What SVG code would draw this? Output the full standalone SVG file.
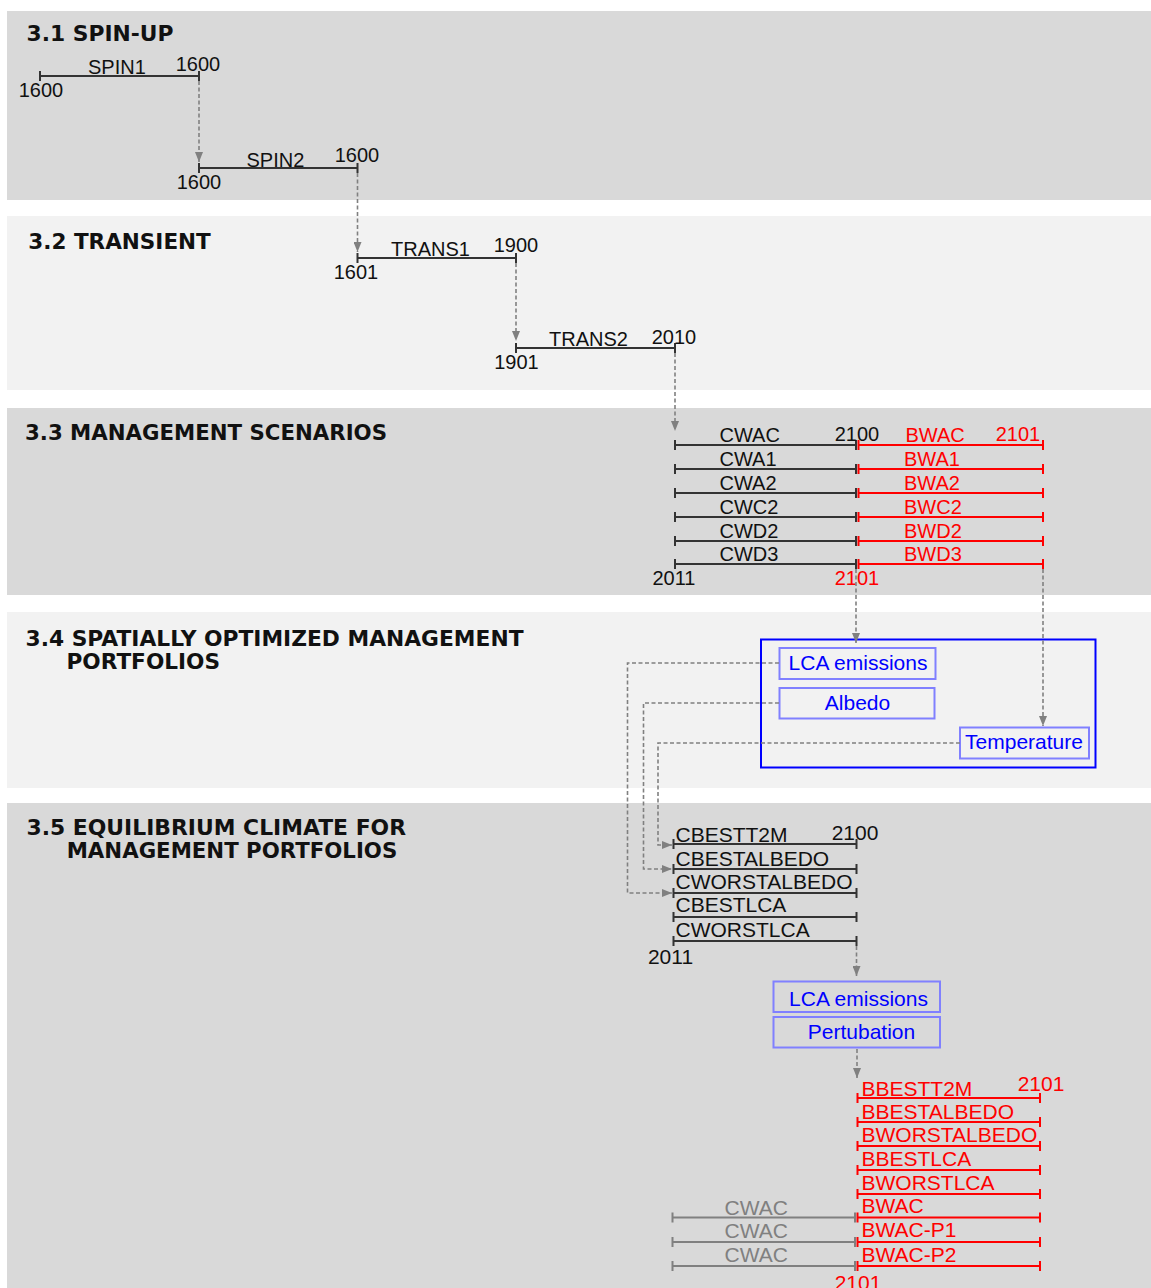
<svg xmlns="http://www.w3.org/2000/svg" width="1151" height="1288" viewBox="0 0 1151 1288">
<style>
.band-d{fill:#d9d9d9}
.band-l{fill:#f2f2f2}
.title{font-family:"DejaVu Sans",Verdana,sans-serif;font-weight:bold;font-size:21px;fill:#111}
.t{font-family:"Liberation Sans",Arial,sans-serif;font-size:20px;fill:#111}
.t21{font-family:"Liberation Sans",Arial,sans-serif;font-size:21px;fill:#111}
.red{fill:#ff0000}
.gray{fill:#808080}
.blue{fill:#0000ff}
.mid{text-anchor:middle}
.bl{fill:none;stroke:#333;stroke-width:2}
.rl{fill:none;stroke:#ff0000;stroke-width:2}
.gl{fill:none;stroke:#808080;stroke-width:2}
.box{fill:none;stroke:#8080ff;stroke-width:2}
.bigbox{fill:none;stroke:#0000ff;stroke-width:2}
.conn{fill:none;stroke:#808080;stroke-width:1.6;stroke-dasharray:4 2.5}
</style>
<defs>
<marker id="arr" markerWidth="10" markerHeight="8" refX="10" refY="4" orient="auto" markerUnits="userSpaceOnUse">
<path d="M0,0 L10,4 L0,8 z" fill="#808080"/>
</marker>
</defs>

<g id="bands">
<rect class="band-d" x="7" y="11" width="1144" height="189"/>
<rect class="band-l" x="7" y="216" width="1144" height="174"/>
<rect class="band-d" x="7" y="408" width="1144" height="187"/>
<rect class="band-l" x="7" y="612" width="1144" height="176"/>
<rect class="band-d" x="7" y="803" width="1144" height="485"/>
<text class="title" x="26.5" y="41" textLength="147" lengthAdjust="spacingAndGlyphs">3.1 SPIN-UP</text>
<text class="title" x="28.3" y="248.5" textLength="182.5" lengthAdjust="spacingAndGlyphs">3.2 TRANSIENT</text>
<text class="title" x="25" y="440" textLength="362" lengthAdjust="spacingAndGlyphs">3.3 MANAGEMENT SCENARIOS</text>
<text class="title" x="25.5" y="646" textLength="498" lengthAdjust="spacingAndGlyphs">3.4 SPATIALLY OPTIMIZED MANAGEMENT</text>
<text class="title" x="66.5" y="668.5" textLength="153.5" lengthAdjust="spacingAndGlyphs">PORTFOLIOS</text>
<text class="title" x="26.5" y="835" textLength="379.5" lengthAdjust="spacingAndGlyphs">3.5 EQUILIBRIUM CLIMATE FOR</text>
<text class="title" x="66.7" y="858" textLength="330.6" lengthAdjust="spacingAndGlyphs">MANAGEMENT PORTFOLIOS</text>
</g>

<g id="spin1">
<path class="bl" d="M40,71 V81 M40,76 H199 M199,71 V81"/>
<text class="t" x="88" y="74">SPIN1</text>
<text class="t mid" x="198" y="71">1600</text>
<text class="t mid" x="41" y="97">1600</text>
</g>
<g id="spin2">
<path class="bl" d="M199,163 V173 M199,168 H357.5 M357.5,163 V173"/>
<text class="t" x="246.5" y="166.5">SPIN2</text>
<text class="t mid" x="357" y="162">1600</text>
<text class="t mid" x="199" y="189">1600</text>
</g>
<g id="trans1">
<path class="bl" d="M357.5,253 V263 M357.5,258 H516 M516,253 V263"/>
<text class="t" x="391" y="255.5">TRANS1</text>
<text class="t mid" x="516" y="252">1900</text>
<text class="t mid" x="356" y="279">1601</text>
</g>
<g id="trans2">
<path class="bl" d="M516,343 V353 M516,348 H675 M675,343 V353"/>
<text class="t" x="549" y="345.5">TRANS2</text>
<text class="t mid" x="674" y="344">2010</text>
<text class="t mid" x="516.5" y="369">1901</text>
</g>

<g id="scenarios-c">
<path class="bl" d="M675,440 V450 M675,445 H856 M856,440 V450
M675,464 V474 M675,469 H856 M856,464 V474
M675,488 V498 M675,493 H856 M856,488 V498
M675,512 V522 M675,517 H856 M856,512 V522
M675,536 V546 M675,541 H856 M856,536 V546
M675,559 V569 M675,564 H856 M856,559 V569"/>
<text class="t" x="719.5" y="442">CWAC</text>
<text class="t" x="719.5" y="466">CWA1</text>
<text class="t" x="719.5" y="490">CWA2</text>
<text class="t" x="719.5" y="514">CWC2</text>
<text class="t" x="719.5" y="538">CWD2</text>
<text class="t" x="719.5" y="561">CWD3</text>
<text class="t mid" x="857" y="441">2100</text>
<text class="t mid" x="674" y="585">2011</text>
</g>
<g id="scenarios-b">
<path class="rl" d="M858.5,440 V450 M858.5,445 H1043 M1043,440 V450
M858.5,464 V474 M858.5,469 H1043 M1043,464 V474
M858.5,488 V498 M858.5,493 H1043 M1043,488 V498
M858.5,512 V522 M858.5,517 H1043 M1043,512 V522
M858.5,536 V546 M858.5,541 H1043 M1043,536 V546
M858.5,559 V569 M858.5,564 H1043 M1043,559 V569"/>
<text class="t red" x="905.5" y="442">BWAC</text>
<text class="t red" x="904" y="466">BWA1</text>
<text class="t red" x="904" y="490">BWA2</text>
<text class="t red" x="904" y="514">BWC2</text>
<text class="t red" x="904" y="538">BWD2</text>
<text class="t red" x="904" y="561">BWD3</text>
<text class="t red mid" x="1018" y="441">2101</text>
<text class="t red mid" x="857" y="585">2101</text>
</g>

<g id="portfolio-box">
<rect class="bigbox" x="761" y="639.5" width="334.5" height="128"/>
</g>
<g id="lca1">
<rect class="box" x="779.5" y="648" width="156" height="31"/>
<text class="t21 blue mid" x="858" y="669.5">LCA emissions</text>
</g>
<g id="albedo">
<rect class="box" x="779.5" y="688" width="155" height="30.5"/>
<text class="t21 blue mid" x="857.5" y="709.5">Albedo</text>
</g>
<g id="temperature">
<rect class="box" x="960" y="727.5" width="129" height="31"/>
<text class="t21 blue mid" x="1024" y="749">Temperature</text>
</g>

<g id="portfolios-c">
<path class="bl" d="M673.5,839 V849 M673.5,844 H856.5 M856.5,839 V849
M673.5,864 V874 M673.5,869 H856.5 M856.5,864 V874
M673.5,888 V898 M673.5,893 H856.5 M856.5,888 V898
M673.5,912 V922 M673.5,917 H856.5 M856.5,912 V922
M673.5,936 V946 M673.5,941 H856.5 M856.5,936 V946"/>
<text class="t21" x="675.5" y="842">CBESTT2M</text>
<text class="t21" x="675.5" y="865.5">CBESTALBEDO</text>
<text class="t21" x="675.5" y="889">CWORSTALBEDO</text>
<text class="t21" x="675.5" y="912">CBESTLCA</text>
<text class="t21" x="675.5" y="937">CWORSTLCA</text>
<text class="t21 mid" x="855" y="839.5">2100</text>
<text class="t21 mid" x="670.5" y="963.5">2011</text>
</g>

<g id="lca2">
<rect class="box" x="773.5" y="981.5" width="166.5" height="30.5"/>
<text class="t21 blue mid" x="858.5" y="1005.5">LCA emissions</text>
</g>
<g id="pertubation">
<rect class="box" x="773.5" y="1017" width="166.5" height="30.5"/>
<text class="t21 blue mid" x="861.5" y="1039">Pertubation</text>
</g>

<g id="portfolios-b">
<path class="rl" d="M857.5,1093 V1103 M857.5,1098 H1040 M1040,1093 V1103
M857.5,1117 V1127 M857.5,1122 H1040 M1040,1117 V1127
M857.5,1141 V1151 M857.5,1146 H1040 M1040,1141 V1151
M857.5,1165 V1175 M857.5,1170 H1040 M1040,1165 V1175
M857.5,1189 V1199 M857.5,1194 H1040 M1040,1189 V1199
M857.5,1212.5 V1222.5 M857.5,1217.5 H1040 M1040,1212.5 V1222.5
M857.5,1237 V1247 M857.5,1242 H1040 M1040,1237 V1247
M857.5,1261 V1271 M857.5,1266 H1040 M1040,1261 V1271"/>
<text class="t21 red" x="861.5" y="1095.5">BBESTT2M</text>
<text class="t21 red" x="861.5" y="1119">BBESTALBEDO</text>
<text class="t21 red" x="861.5" y="1141.5">BWORSTALBEDO</text>
<text class="t21 red" x="861.5" y="1165.5">BBESTLCA</text>
<text class="t21 red" x="861.5" y="1189.5">BWORSTLCA</text>
<text class="t21 red" x="861.5" y="1213">BWAC</text>
<text class="t21 red" x="861.5" y="1236.5">BWAC-P1</text>
<text class="t21 red" x="861.5" y="1262">BWAC-P2</text>
<text class="t21 red mid" x="1041" y="1091">2101</text>
<text class="t21 red mid" x="858" y="1289.5">2101</text>
</g>
<g id="cwac-ref">
<path class="gl" d="M672.5,1212.5 V1222.5 M672.5,1217.5 H855 M855,1212.5 V1222.5
M672.5,1237 V1247 M672.5,1242 H855 M855,1237 V1247
M672.5,1261 V1271 M672.5,1266 H855 M855,1261 V1271"/>
<text class="t21 gray" x="724.5" y="1214.5">CWAC</text>
<text class="t21 gray" x="724.5" y="1238">CWAC</text>
<text class="t21 gray" x="724.5" y="1261.5">CWAC</text>
</g>

<g id="connectors">
<path class="conn" d="M199,81 V162" marker-end="url(#arr)"/>
<path class="conn" d="M357.5,173 V252" marker-end="url(#arr)"/>
<path class="conn" d="M516,263 V341" marker-end="url(#arr)"/>
<path class="conn" d="M675,353 V431" marker-end="url(#arr)"/>
<path class="conn" d="M856,569 V643" marker-end="url(#arr)"/>
<path class="conn" d="M1043,569 V726" marker-end="url(#arr)"/>
<path class="conn" d="M779,663 H627.5 V893 H672" marker-end="url(#arr)"/>
<path class="conn" d="M779,703 H643.5 V869 H672" marker-end="url(#arr)"/>
<path class="conn" d="M960,743 H658 V845 H672" marker-end="url(#arr)"/>
<path class="conn" d="M856.5,946 V976" marker-end="url(#arr)"/>
<path class="conn" d="M857,1049 V1078" marker-end="url(#arr)"/>
</g>
</svg>
